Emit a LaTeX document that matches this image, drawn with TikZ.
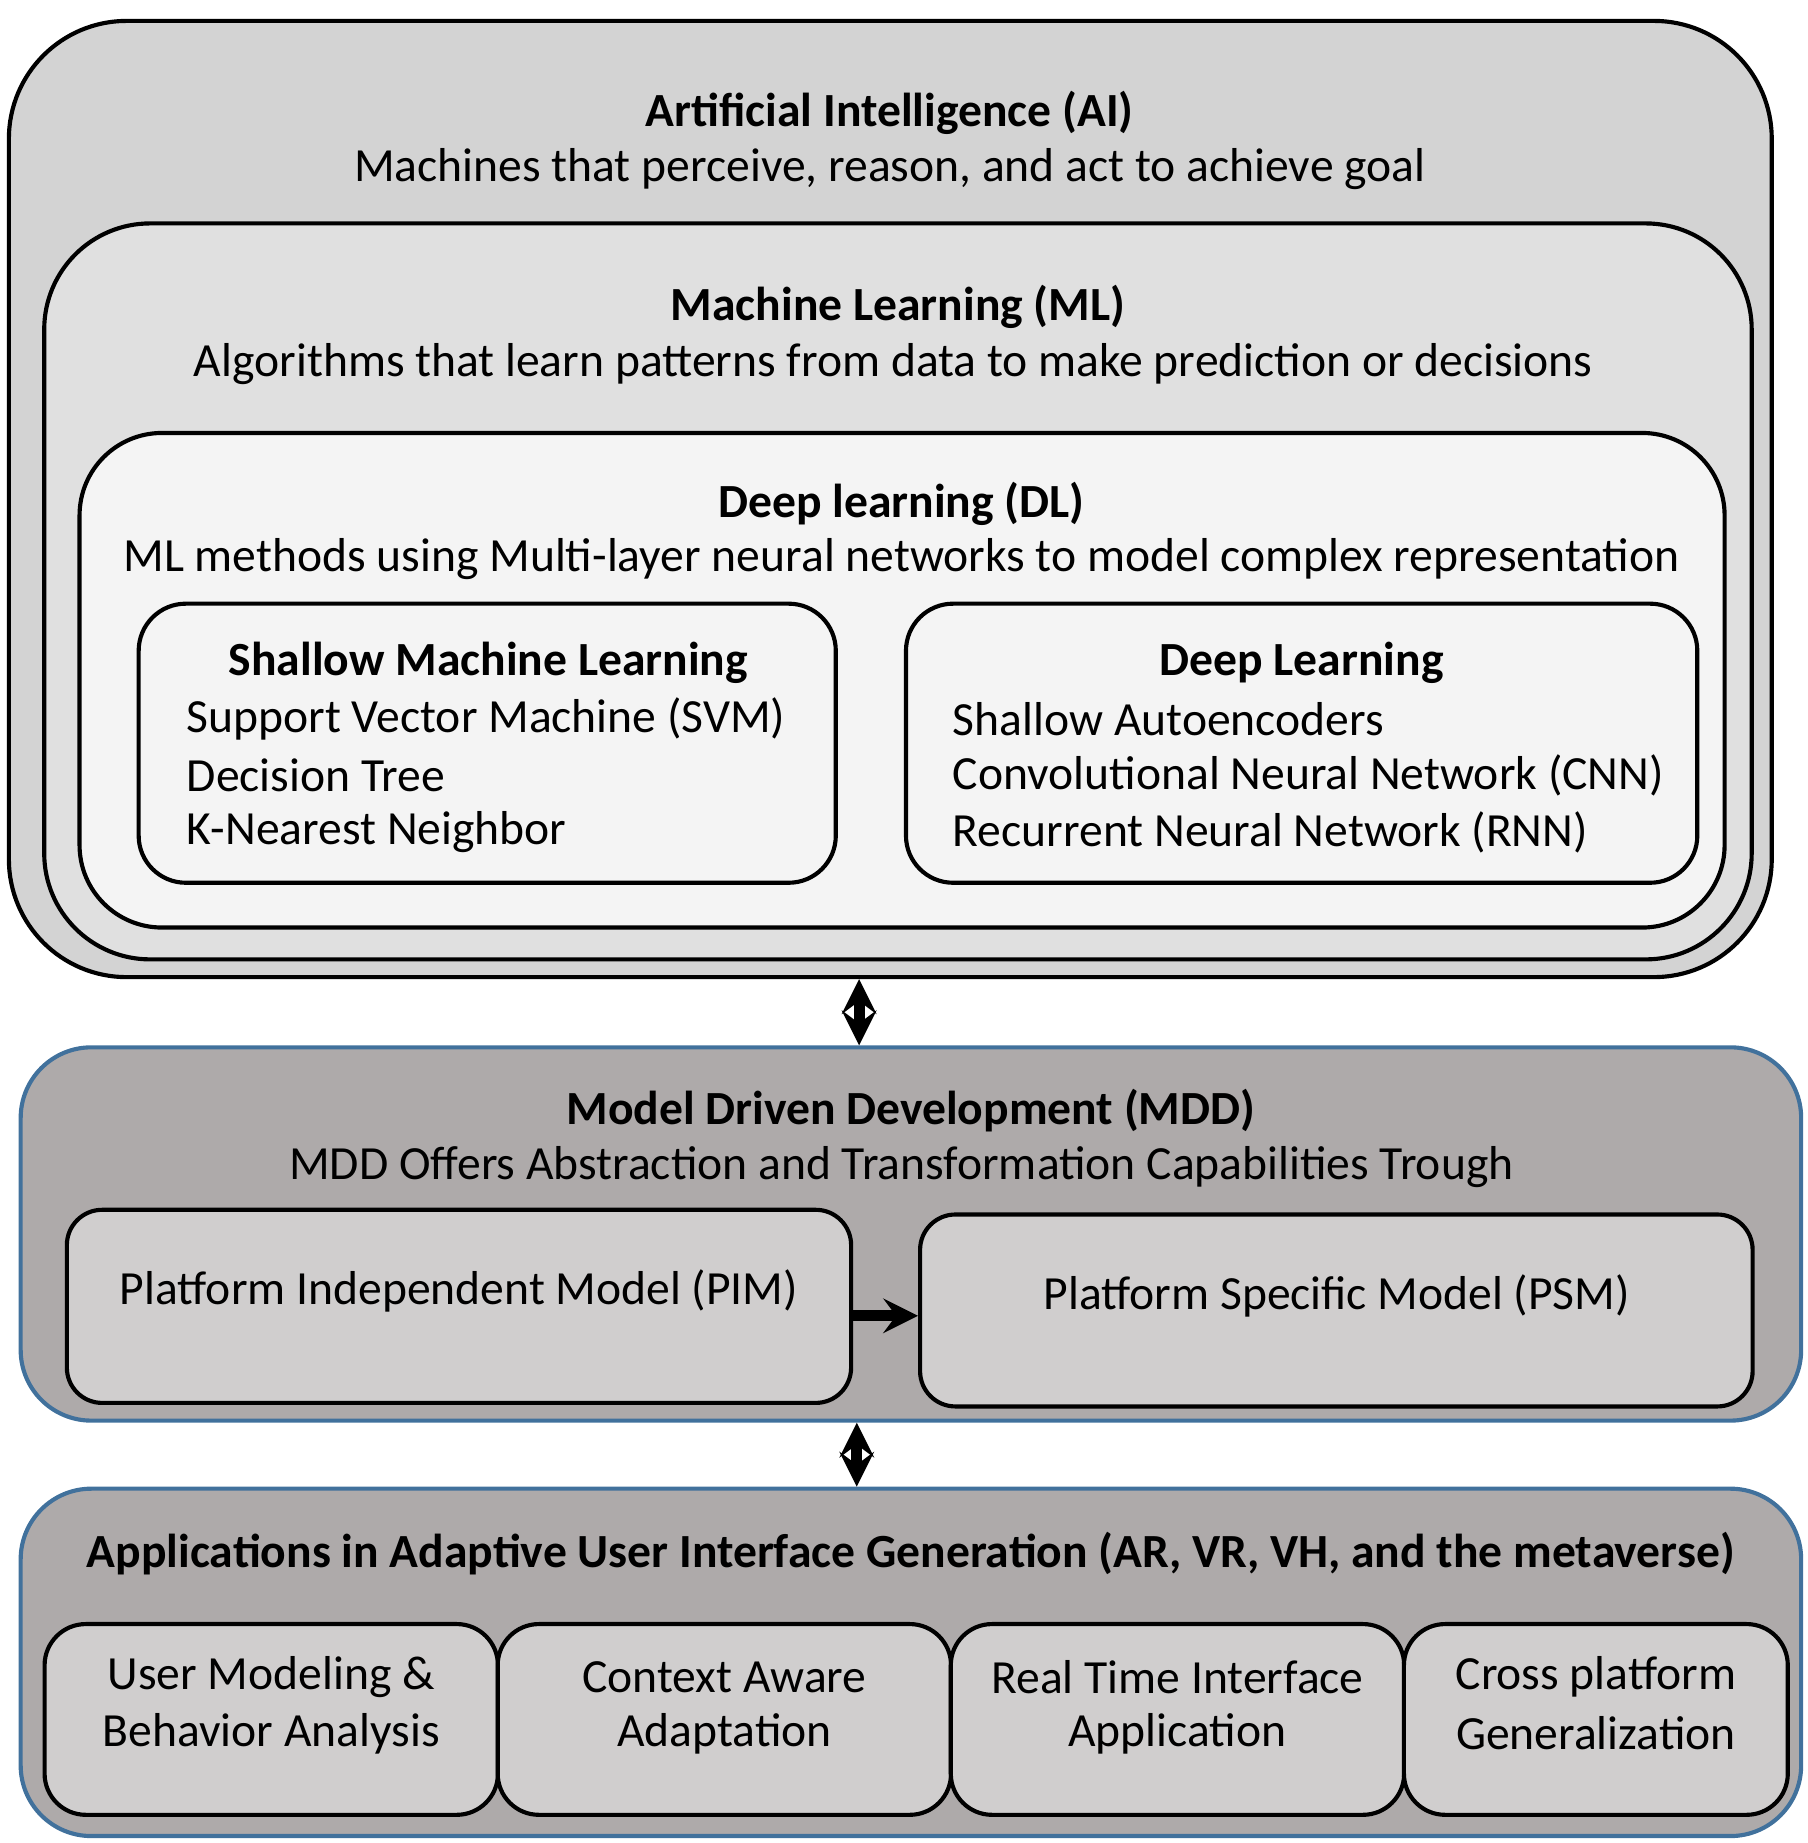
\documentclass[tikz,border=0pt]{standalone}
\usepackage{fontspec}
\setmainfont{Carlito}
\usetikzlibrary{arrows}
\definecolor{aigray}{RGB}{211,211,211}
\definecolor{mlgray}{RGB}{224,224,224}
\definecolor{dlgray}{RGB}{244,244,244}
\definecolor{mddgray}{RGB}{174,170,170}
\definecolor{subgray}{RGB}{208,206,206}
\definecolor{mddblue}{RGB}{65,113,156}
\tikzset{
  box/.style={draw=black,line width=1pt,inner sep=0pt},
  layer/.style={draw=mddblue,line width=1pt,fill=mddgray,inner sep=0pt,rounded corners=0.6cm},
  txt/.style={inner sep=0pt,font=\fontsize{11.5}{14}\selectfont},
  head/.style={txt,font=\fontsize{11.5}{14}\selectfont\bfseries},
  link/.style={line width=2.6pt,-stealth},
  both/.style={line width=2.6pt,stealth-stealth}
}
\begin{document}
\begin{tikzpicture}[x=0.01cm,y=-0.01cm]
\useasboundingbox (0,0) rectangle (1536,1566);
% AI layers
\node[box,fill=aigray,rounded corners=1cm,minimum width=14.97cm,minimum height=8.12cm] (ai) at (756.5,424) {};
\node[box,fill=mlgray,rounded corners=0.9cm,minimum width=14.5cm,minimum height=6.25cm] (ml) at (763,502.5) {};
\node[box,fill=dlgray,rounded corners=0.7cm,minimum width=13.97cm,minimum height=4.2cm] (dl) at (766.5,578) {};
\node[head] at (756,96) {Artificial Intelligence (AI)};
\node[txt] at (756,144) {Machines that perceive, reason, and act to achieve goal};
\node[head] at (763,261) {Machine Learning (ML)};
\node[txt] at (759,309) {Algorithms that learn patterns from data to make prediction or decisions};
\node[head] at (766,428) {Deep learning (DL)};
\node[txt] at (766,475) {ML methods using Multi-layer neural networks to model complex representation};
\node[box,fill=dlgray,rounded corners=0.4cm,minimum width=5.92cm,minimum height=2.37cm] (sml) at (414,631.5) {};
\node[box,fill=dlgray,rounded corners=0.4cm,minimum width=6.72cm,minimum height=2.37cm] (dlr) at (1106,631.5) {};
\node[head] at (415,563) {Shallow Machine Learning};
\node[txt,anchor=west] at (158,611) {Support Vector Machine (SVM)};
\node[txt,anchor=west] at (158,659) {Decision Tree};
\node[txt,anchor=west] at (158,707) {K-Nearest Neighbor};
\node[head] at (1106,563) {Deep Learning};
\node[txt,anchor=west] at (809,611) {Shallow Autoencoders};
\node[txt,anchor=west] at (809,659) {Convolutional Neural Network (CNN)};
\node[txt,anchor=west] at (809,707) {Recurrent Neural Network (RNN)};
% MDD layer
\node[layer,minimum width=15.12cm,minimum height=3.17cm] (mdd) at (774,1048.5) {};
\node[head] at (774,944) {Model Driven Development (MDD)};
\node[txt] at (766,992) {MDD Offers Abstraction and Transformation Capabilities Trough};
\node[box,fill=subgray,rounded corners=0.3cm,minimum width=6.66cm,minimum height=1.64cm] (pim) at (390,1110) {};
\node[box,fill=subgray,rounded corners=0.3cm,minimum width=7.07cm,minimum height=1.63cm] (psm) at (1135.5,1113.5) {};
\node[txt] at (390,1097) {Platform Independent Model (PIM)};
\node[txt] at (1136,1101) {Platform Specific Model (PSM)};
\draw[link] (pim.east|-0,1118) -- (psm.west|-0,1118);
% applications layer
\node[layer,minimum width=15.12cm,minimum height=2.95cm] (app) at (774,1412.5) {};
\node[head] at (774,1320) {Applications in Adaptive User Interface Generation (AR, VR, VH, and the metaverse)};
\foreach \cx/\w/\nm/\la/\lb in {230.5/3.85/um/User Modeling \&/Behavior Analysis,
                                615.5/3.85/ca/Context Aware/Adaptation,
                                1000.5/3.85/rt/Real Time Interface/Application,
                                1356/3.26/cp/Cross platform/Generalization}{
  \node[box,fill=subgray,rounded corners=0.35cm,minimum width=\w cm,minimum height=1.62cm] (\nm) at (\cx,1461) {};
  \node[txt] at (\cx,1425) {\la};
  \node[txt] at (\cx,1473) {\lb};
}
% links between layers
\draw[both] (ai.south-|730,0) -- (mdd.north-|730,0);
\draw[both] (mdd.south-|728,0) -- (app.north-|728,0);
\end{tikzpicture}
\end{document}
